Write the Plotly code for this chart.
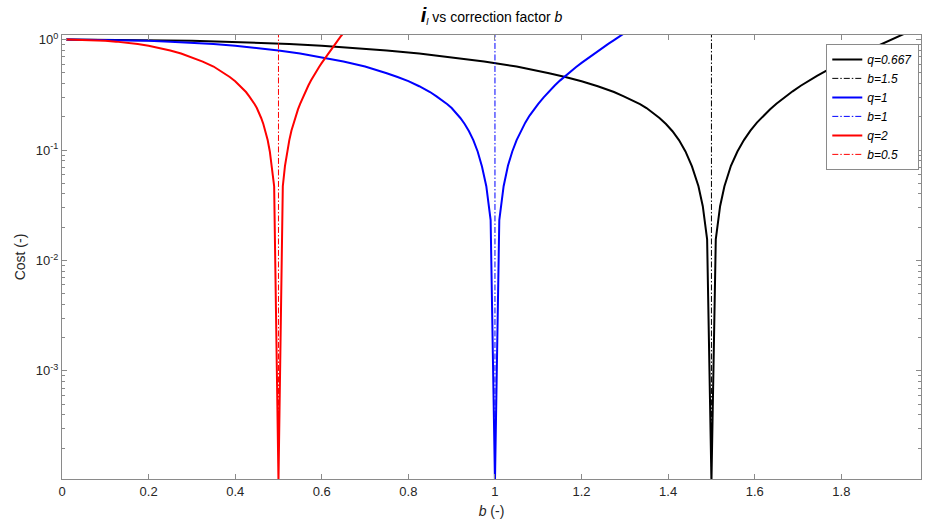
import math
import plotly.graph_objects as go

# ---- data ----
# q = 0.667 (black)
b_q0667 = [0.01, 0.15, 0.3, 0.375, 0.45, 0.525, 0.6, 0.675, 0.75, 0.825, 0.9, 0.975, 1.05,
           1.0875, 1.125, 1.1625, 1.2, 1.2375, 1.275, 1.2975, 1.32, 1.335, 1.35, 1.365, 1.38,
           1.395, 1.41, 1.425, 1.44, 1.455, 1.47, 1.48, 1.49, 1.5, 1.51, 1.52, 1.53, 1.545,
           1.56, 1.575, 1.59, 1.605, 1.62, 1.635, 1.65, 1.66875, 1.6875, 1.70625, 1.725,
           1.74375, 1.7625, 1.78125, 1.8, 1.81875, 1.8375, 1.85625, 1.875, 1.89375, 1.9125,
           1.93125, 1.95, 1.9875]
cost_q0667 = [1.0, 0.995, 0.975, 0.958, 0.937, 0.91, 0.878, 0.84, 0.797, 0.747, 0.69, 0.632,
              0.57, 0.533, 0.495, 0.458, 0.42, 0.378, 0.335, 0.306, 0.28, 0.26, 0.24, 0.218,
              0.195, 0.172, 0.148, 0.123, 0.097, 0.071, 0.047, 0.031, 0.0155, 1.0e-4, 0.0155,
              0.031, 0.047, 0.072, 0.097, 0.123, 0.15, 0.177, 0.205, 0.233, 0.262, 0.3, 0.34,
              0.382, 0.425, 0.47, 0.515, 0.565, 0.615, 0.668, 0.725, 0.785, 0.85, 0.918, 0.99,
              1.067, 1.15, 1.32]

# q = 1 (blue)
b_q1 = [0.01, 0.1, 0.2, 0.25, 0.3, 0.35, 0.4, 0.45, 0.5, 0.55, 0.6, 0.65, 0.7, 0.725, 0.75,
        0.775, 0.8, 0.825, 0.85, 0.865, 0.88, 0.89, 0.9, 0.91, 0.92, 0.93, 0.94, 0.95, 0.96,
        0.97, 0.98, 0.99, 1.0, 1.01, 1.02, 1.03, 1.04, 1.05, 1.06, 1.07, 1.08, 1.09, 1.1,
        1.1125, 1.125, 1.1375, 1.15, 1.1625, 1.175, 1.1875, 1.2, 1.2125, 1.225, 1.2375, 1.25,
        1.2625, 1.275, 1.2875, 1.3, 1.35]
cost_q1 = [1.0, 0.995, 0.975, 0.958, 0.937, 0.91, 0.878, 0.84, 0.797, 0.747, 0.69, 0.632,
           0.57, 0.533, 0.495, 0.458, 0.42, 0.378, 0.335, 0.306, 0.28, 0.26, 0.24, 0.218,
           0.195, 0.172, 0.148, 0.123, 0.097, 0.071, 0.047, 0.0232, 1.0e-4, 0.0232, 0.047,
           0.072, 0.097, 0.123, 0.15, 0.177, 0.205, 0.233, 0.262, 0.3, 0.34, 0.382, 0.425,
           0.47, 0.515, 0.565, 0.615, 0.668, 0.725, 0.785, 0.85, 0.918, 0.99, 1.067, 1.15, 1.5]

# q = 2 (red)
b_q2 = [0.01, 0.05, 0.1, 0.125, 0.15, 0.175, 0.2, 0.225, 0.25, 0.275, 0.3, 0.325, 0.35,
        0.3625, 0.375, 0.3875, 0.4, 0.4125, 0.425, 0.4325, 0.44, 0.445, 0.45, 0.455, 0.46,
        0.465, 0.47, 0.475, 0.48, 0.485, 0.49, 0.5, 0.51, 0.515, 0.52, 0.525, 0.53, 0.535,
        0.54, 0.545, 0.55, 0.55625, 0.5625, 0.56875, 0.575, 0.58125, 0.5875, 0.59375, 0.6,
        0.60625, 0.6125, 0.61875, 0.625, 0.63125, 0.6375, 0.64375, 0.65, 0.675]
cost_q2 = [1.0, 0.995, 0.975, 0.958, 0.937, 0.91, 0.878, 0.84, 0.797, 0.747, 0.69, 0.632,
           0.57, 0.533, 0.495, 0.458, 0.42, 0.378, 0.335, 0.306, 0.28, 0.26, 0.24, 0.218,
           0.195, 0.172, 0.148, 0.123, 0.097, 0.071, 0.047, 1.0e-4, 0.047, 0.072, 0.097,
           0.123, 0.15, 0.177, 0.205, 0.233, 0.262, 0.3, 0.34, 0.382, 0.425, 0.47, 0.515,
           0.565, 0.615, 0.668, 0.725, 0.785, 0.85, 0.918, 0.99, 1.067, 1.15, 1.5]

curve_names = ["q=0.667", "q=1", "q=2"]
ref_b = [1.5, 1.0, 0.5]
ref_names = ["b=1.5", "b=1", "b=0.5"]
colors = ["#000000", "#0000FF", "#FF0000"]

x_ticks = [0, 0.2, 0.4, 0.6, 0.8, 1.0, 1.2, 1.4, 1.6, 1.8]
x_ticklabels = ["0", "0.2", "0.4", "0.6", "0.8", "1", "1.2", "1.4", "1.6", "1.8"]
y_ticks = [1e-3, 1e-2, 1e-1, 1]
y_ticklabels = ["10<sup>-3</sup>", "10<sup>-2</sup>", "10<sup>-1</sup>", "10<sup>0</sup>"]
y_minor = [m * 10.0 ** e for e in (-4, -3, -2, -1) for m in range(2, 10)]

x_range = [0, 1.984]
y_lo, y_hi = 1.05e-4, 1.1

fig = go.Figure()
curves = [(b_q0667, cost_q0667), (b_q1, cost_q1), (b_q2, cost_q2)]
for i, (bx, cy) in enumerate(curves):
    fig.add_trace(go.Scatter(x=bx, y=cy, mode="lines", name="<i>" + curve_names[i] + "</i>",
                             line=dict(color=colors[i], width=2)))
    fig.add_trace(go.Scatter(x=[ref_b[i], ref_b[i]], y=[y_lo / 10, y_hi * 10], mode="lines",
                             name="<i>" + ref_names[i] + "</i>",
                             line=dict(color=colors[i], width=1, dash="6px,2px,1.5px,2px")))

axis_col = "#8a8a8a"
label_col = "#262626"
fnt = "Liberation Sans, Arial, sans-serif"

fig.update_layout(
    width=925, height=525,
    margin=dict(l=62, r=4, t=35, b=46),
    paper_bgcolor="white", plot_bgcolor="white",
    font=dict(family=fnt, size=13, color=label_col),
    title=dict(text="<span style='font-size:20px'><b><i>i</i></b></span><sub><i>l</i></sub>"
                    " vs correction factor <i>b</i>",
               x=0.5, xref="paper", xanchor="center", y=0.967, yanchor="middle",
               font=dict(size=14, color="#000000")),
    showlegend=True,
    legend=dict(x=0.998, y=0.98, xanchor="right", yanchor="top",
                bgcolor="white", bordercolor="#8a8a8a", borderwidth=1,
                font=dict(size=12, color="#000000"), tracegroupgap=0,
                itemwidth=30),
    xaxis=dict(range=x_range, tickmode="array", tickvals=x_ticks, ticktext=x_ticklabels,
               ticks="inside", ticklen=5, tickcolor=axis_col, showline=True,
               linecolor=axis_col, linewidth=1, mirror="ticks", showgrid=False,
               zeroline=False, tickfont=dict(size=13, color=label_col),
               title=dict(text="<i>b</i> (-)", standoff=8, font=dict(size=14, color=label_col))),
    yaxis=dict(type="log", range=[math.log10(y_lo), math.log10(y_hi)],
               tickmode="array", tickvals=y_ticks, ticktext=y_ticklabels,
               ticks="inside", ticklen=5, tickcolor=axis_col, showline=True,
               linecolor=axis_col, linewidth=1, mirror="ticks", showgrid=False,
               zeroline=False, tickfont=dict(size=13, color=label_col),
               minor=dict(tickmode="array", tickvals=y_minor, ticks="inside", ticklen=3,
                          tickcolor=axis_col, showgrid=False),
               title=dict(text="Cost (-)", standoff=6, font=dict(size=14, color=label_col))),
)

fig.write_html("out.html")
